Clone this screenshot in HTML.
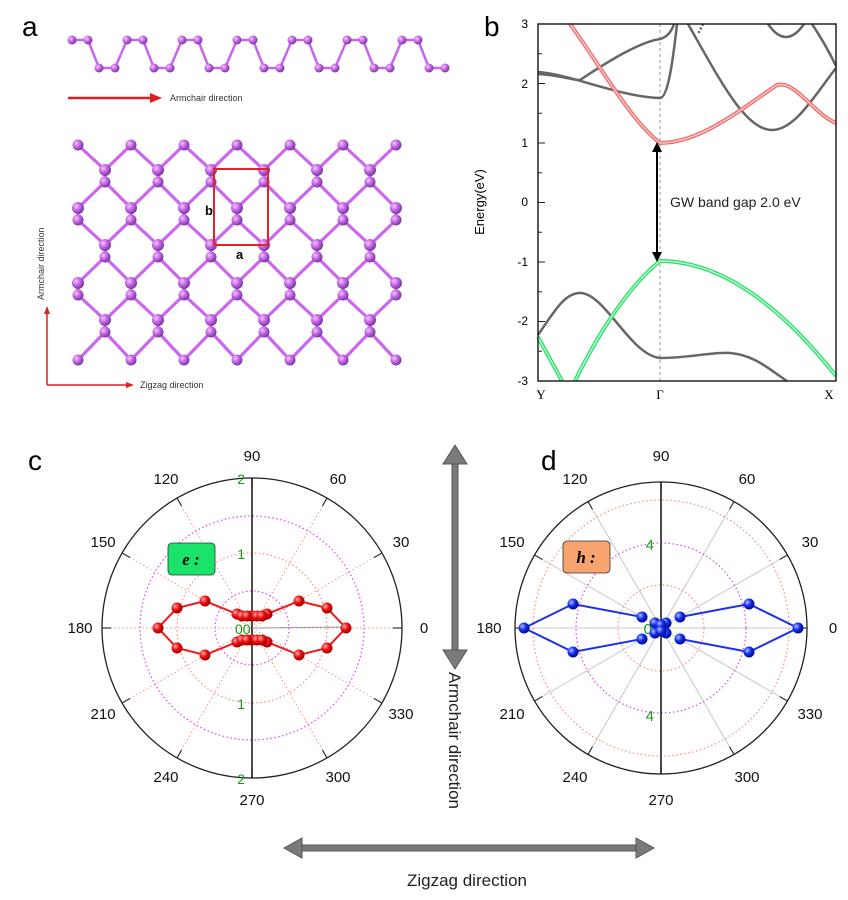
<!DOCTYPE html>
<html><head><meta charset="utf-8"><style>
body{margin:0;background:#fff;width:848px;height:900px;overflow:hidden}
svg{display:block;font-family:"Liberation Sans",sans-serif}
</style></head><body>
<svg id="s" width="848" height="900" viewBox="0 0 848 900" xmlns="http://www.w3.org/2000/svg">
<defs>
<radialGradient id="ga" cx="35%" cy="35%" r="65%"><stop offset="0" stop-color="#f4c8ff"/><stop offset="0.5" stop-color="#c766ea"/><stop offset="1" stop-color="#7a3aa0"/></radialGradient>
<radialGradient id="gr" cx="35%" cy="35%" r="65%"><stop offset="0" stop-color="#ffb0b0"/><stop offset="0.5" stop-color="#ee1111"/><stop offset="1" stop-color="#a00000"/></radialGradient>
<radialGradient id="gb" cx="35%" cy="35%" r="65%"><stop offset="0" stop-color="#b0c0ff"/><stop offset="0.5" stop-color="#1530ee"/><stop offset="1" stop-color="#000a90"/></radialGradient>
</defs>
<!-- labels -->
<text x="22" y="36" font-size="28">a</text>
<text x="484" y="36" font-size="28">b</text>
<text x="28" y="470" font-size="28">c</text>
<text x="541" y="470" font-size="28">d</text>
<g id="chain"></g>
<g id="lat"></g>
<!-- panel a arrows -->
<line x1="68" y1="98" x2="152" y2="98" stroke="#e02020" stroke-width="2.5"/>
<polygon points="150,93 162,98 150,103" fill="#e02020"/>
<text x="170" y="101" font-size="9" fill="#333">Armchair direction</text>
<rect x="214" y="169" width="54" height="76" fill="none" stroke="#e8202a" stroke-width="2"/>
<text x="205" y="215" font-size="13" font-weight="bold">b</text>
<text x="236" y="259" font-size="13" font-weight="bold">a</text>
<line x1="47" y1="385" x2="47" y2="312" stroke="#e02020" stroke-width="1.5"/>
<polygon points="44,314 47,306 50,314" fill="#e02020"/>
<line x1="47" y1="385" x2="128" y2="385" stroke="#e02020" stroke-width="1.5"/>
<polygon points="126,382 134,385 126,388" fill="#e02020"/>
<text x="140" y="388" font-size="9" fill="#333">Zigzag direction</text>
<text transform="translate(44,300) rotate(-90)" font-size="9" fill="#333">Armchair direction</text>
<!-- panel b -->
<g fill="none">
<line x1="660" y1="24" x2="660" y2="381" stroke="#999" stroke-dasharray="3,3" stroke-width="1"/>
<g stroke="#666" stroke-width="2.5">
<path d="M538,72 C570,74 620,97 660,98 C668,98 673,60 677,24"/>
<path d="M538,74 C560,75 570,80 580,80 C610,60 640,42 660,39 C668,37 672,30 674,24"/>
<path d="M688,24 C720,80 745,130 772,130 C795,130 815,95 836,68"/>
<path d="M703,24 L698,34" stroke-dasharray="2,2"/>
<path d="M768,24 Q786,50 804,24"/>
<path d="M812,24 Q826,45 836,66"/>
<path d="M538,335 C555,310 565,293 580,293 C605,293 630,355 660,358 C690,358 710,352 730,353 C755,355 770,370 787,381"/>
</g>
<path d="M570,24 C600,65 630,120 660,143 C700,143 740,110 777,85 C795,80 815,115 836,123" stroke="#f07070" stroke-width="4"/>
<path d="M570,24 C600,65 630,120 660,143 C700,143 740,110 777,85 C795,80 815,115 836,123" stroke="#ffd0d0" stroke-width="1.2"/>
<g id="grn">
<path d="M660,261 C700,261 760,280 836,376 M660,261 C630,285 600,330 575,381 M538,337 L562,381" stroke="#30e070" stroke-width="4"/>
<path d="M660,261 C700,261 760,280 836,376 M660,261 C630,285 600,330 575,381 M538,337 L562,381" stroke="#c8ffd8" stroke-width="1.2"/>
</g>
<rect x="538" y="24" width="298" height="357" stroke="#222" stroke-width="1.5"/>
</g>
<g id="bt" stroke="#222" stroke-width="1"></g>
<g font-size="12" text-anchor="end">
<text x="528" y="28">3</text><text x="528" y="88">2</text><text x="528" y="147">1</text><text x="528" y="206">0</text><text x="528" y="266">-1</text><text x="528" y="325">-2</text><text x="528" y="385">-3</text>
</g>
<g font-size="13" font-family="Liberation Serif" text-anchor="middle"><text x="541" y="399">Y</text><text x="660" y="399">Γ</text><text x="829" y="399">X</text></g>
<text transform="translate(484,202) rotate(-90)" font-size="13" text-anchor="middle">Energy(eV)</text>
<line x1="657" y1="150" x2="657" y2="254" stroke="#000" stroke-width="2"/>
<polygon points="652,152 657,142 662,152" fill="#000"/><polygon points="652,252 657,262 662,252" fill="#000"/>
<text x="670" y="207" font-size="14" fill="#222">GW band gap 2.0 eV</text>
<g id="pc"></g><g id="pd"></g>
<!-- middle arrows -->
<g fill="#7a7a7a" stroke="#555" stroke-width="1">
<rect x="452" y="462" width="6" height="190"/>
<polygon points="443,464 455,445 467,464"/><polygon points="443,650 455,669 467,650"/>
<rect x="300" y="845" width="338" height="6"/>
<polygon points="302,838 284,848 302,858"/><polygon points="636,838 654,848 636,858"/>
</g>
<text transform="translate(449,672) rotate(90)" font-size="17" fill="#222">Armchair direction</text>
<text x="467" y="886" font-size="17" text-anchor="middle" fill="#222">Zigzag direction</text>
</svg>
<script>
const NS="http://www.w3.org/2000/svg",S=document.getElementById('s');
function el(p,t,a,txt){const e=document.createElementNS(NS,t);for(const k in a)e.setAttribute(k,a[k]);if(txt!==undefined)e.textContent=txt;p.appendChild(e);return e;}
// band ticks
const bt=document.getElementById('bt');
for(let i=0;i<=12;i++){const y=24+i*357/12;el(bt,'line',{x1:538,y1:y,x2:i%2?542:545,y2:y});}
// chain
const ch=document.getElementById('chain');
let pts=[];for(let k=0;k<7;k++){const x=72+55*k;pts.push([x,40],[x+16,40],[x+27,68],[x+43,68]);}
el(ch,'polyline',{points:pts.map(p=>p.join(',')).join(' '),fill:'none',stroke:'#c766ea','stroke-width':2.5});
pts.forEach(p=>el(ch,'circle',{cx:p[0],cy:p[1],r:4.5,fill:'url(#ga)'}));
// lattice
const L=document.getElementById('lat');
const rows=[145,176,214,251,289,326,360];
const atoms=[];
rows.forEach((yc,i)=>{const off=i%2?105:78;for(let x=off-53;x<=430;x+=53){if(x<62||x>412)continue;
 if(i==0||i==6)atoms.push([x,yc,yc]);else atoms.push([x,yc-6,yc+6]);}});
const g1=el(L,'g',{stroke:'#cc66ee','stroke-width':3.2,'stroke-linecap':'round'});
atoms.forEach(a=>{if(a[1]!=a[2])el(g1,'line',{x1:a[0],y1:a[1],x2:a[0],y2:a[2]});
 const nxt=rows.indexOf(a[1]==a[2]?a[1]:(a[1]+a[2])/2);});
for(let i=0;i<rows.length-1;i++){const ra=atoms.filter(a=>Math.abs((a[1]+a[2])/2-rows[i])<1),rb=atoms.filter(a=>Math.abs((a[1]+a[2])/2-rows[i+1])<1);
 ra.forEach(a=>{[-26.5,26.5].forEach(d=>{const x2=a[0]+d;const b=rb.find(b=>Math.abs(b[0]-x2)<2);
  if(b)el(g1,'line',{x1:a[0],y1:a[2],x2:b[0],y2:b[1]});else if(x2>60&&x2<416)el(g1,'line',{x1:a[0],y1:a[2],x2:a[0]+d/2,y2:(a[2]+rows[i+1])/2});});});}
atoms.forEach(a=>{el(L,'circle',{cx:a[0],cy:a[2],r:5.5,fill:'url(#ga)'});if(a[1]!=a[2])el(L,'circle',{cx:a[0],cy:a[1],r:6,fill:'url(#ga)'});});
// polar
function polar(id,cx,cy,R,grid){const g=document.getElementById(id);
 for(let a=0;a<360;a+=30){const r=a*Math.PI/180;
  if(a%90)el(g,'line',{x1:cx,y1:cy,x2:cx+R*Math.cos(r),y2:cy-R*Math.sin(r),stroke:grid.spoke,'stroke-width':1,'stroke-dasharray':grid.sd});
  else if(a==0||a==180)el(g,'line',{x1:cx,y1:cy,x2:cx+R*Math.cos(r),y2:cy,stroke:grid.hz,'stroke-width':grid.hzw,'stroke-dasharray':grid.hzd});
  el(g,'line',{x1:cx+(R-9)*Math.cos(r),y1:cy-(R-9)*Math.sin(r),x2:cx+R*Math.cos(r),y2:cy-R*Math.sin(r),stroke:'#333','stroke-width':1.2});
  el(g,'text',{x:cx+172*Math.cos(r),y:cy-172*Math.sin(r)+5,'font-size':15,'text-anchor':'middle',fill:'#111'},String(a));}
 grid.rings.forEach(q=>el(g,'circle',{cx,cy,r:q[0],fill:'none',stroke:q[1],'stroke-width':1.2,'stroke-dasharray':'1.5,2.5'}));
 el(g,'circle',{cx,cy,r:R,fill:'none',stroke:'#222','stroke-width':1.3});
 el(g,'line',{x1:cx,y1:cy-R,x2:cx,y2:cy+R,stroke:'#111','stroke-width':1.5});
 return g;}
const gc=polar('pc',252,628,150,{spoke:'#f49080',sd:'1.5,2.5',hz:'#f49080',hzw:1,hzd:'1.5,2.5',rings:[[37,'#e040f0'],[75,'#f49080'],[112,'#e040f0']]});
el(gc,'line',{x1:252,y1:628,x2:342,y2:627,stroke:'#999','stroke-width':1});
[[2,-150],[1,-75],[1,75],[2,150]].forEach(t=>el(gc,'text',{x:245,y:628+t[1]+6,'font-size':14,fill:'#1a9a1a','text-anchor':'end'},String(t[0])));
el(gc,'text',{x:235,y:634,'font-size':14,fill:'#1a9a1a'},'00');
el(gc,'rect',{x:168,y:543,width:47,height:32,rx:4,fill:'#19e36a',stroke:'#333','stroke-width':0.8});
el(gc,'text',{x:191,y:565,'font-size':17,'font-family':'Liberation Serif','font-weight':'bold','font-style':'italic','text-anchor':'middle'},'e :');
function series(g,cx,cy,lines,extra,col,grad,r){lines.forEach(L2=>el(g,'polyline',{points:L2.map(p=>(cx+p[0])+','+(cy+p[1])).join(' '),fill:'none',stroke:col,'stroke-width':2}));
 lines.flat().concat(extra).forEach(p=>el(g,'circle',{cx:cx+p[0],cy:cy+p[1],r,fill:grad}));}
const rc=[[0,-12],[15,-14],[47,-27],[75,-20],[94,0],[75,20],[47,27],[15,14],[0,12]];
const lc=rc.map(p=>[-p[0],p[1]]);
const exc=[];[-10,-5,5,10].forEach(x=>{exc.push([x,-12],[x,12]);});
series(gc,252,628,[rc,lc],exc,'#ee1a1a','url(#gr)',5.5);
const gd=polar('pd',661,628,146,{spoke:'#c8c8c8',sd:'',hz:'#c8c8c8',hzw:1,hzd:'',rings:[[43,'#f49080'],[85,'#e040f0'],[128,'#f49080']]});
el(gd,'text',{x:654,y:550,'font-size':15,fill:'#1a9a1a','text-anchor':'end'},'4');
el(gd,'text',{x:654,y:721,'font-size':15,fill:'#1a9a1a','text-anchor':'end'},'4');
el(gd,'text',{x:652,y:634,'font-size':15,fill:'#1a9a1a','text-anchor':'end'},'0');
el(gd,'rect',{x:563,y:541,width:47,height:32,rx:4,fill:'#f7a46e',stroke:'#333','stroke-width':0.8});
el(gd,'text',{x:586,y:563,'font-size':17,'font-family':'Liberation Serif','font-weight':'bold','font-style':'italic','text-anchor':'middle'},'h :');
const rd=[[19,-11],[88,-24],[137,0],[88,24],[19,11]],ld=rd.map(p=>[-p[0],p[1]]);
series(gd,661,628,[rd,ld],[[-6,-5],[5,-5],[-6,5],[5,5],[0,-3],[0,3]],'#1a30ee','url(#gb)',5.5);
</script>
</body></html>
